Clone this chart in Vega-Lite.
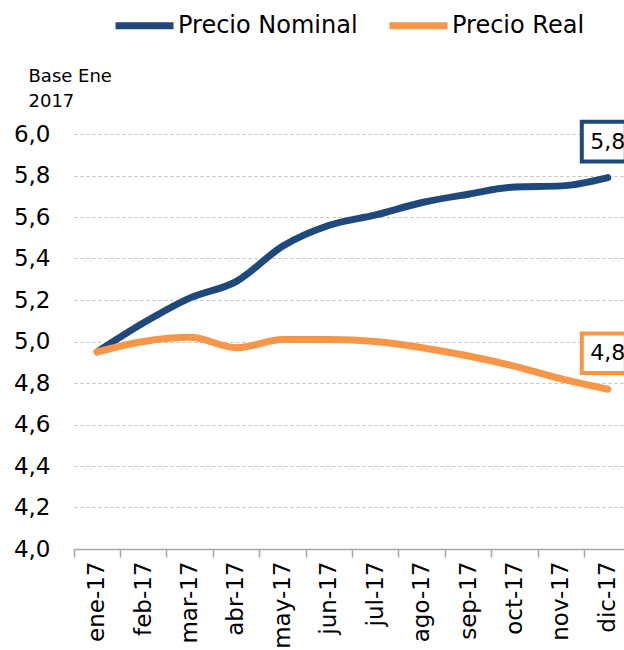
{
  "$schema": "https://vega.github.io/schema/vega-lite/v6.json",
  "autosize": "none",
  "width": 550,
  "height": 415,
  "padding": {"left": 74, "top": 134, "right": 0, "bottom": 101},
  "background": "white",
  "config": {
    "locale": {"number": {"decimal": ",", "thousands": ".", "grouping": [3], "currency": ["", ""]}},
    "view": {"stroke": null},
    "font": "DejaVu Sans"
  },
  "data": {
    "values": [
      {"mes": "ene-17", "serie": "Precio Nominal", "valor": 4.95},
      {"mes": "feb-17", "serie": "Precio Nominal", "valor": 5.09},
      {"mes": "mar-17", "serie": "Precio Nominal", "valor": 5.21},
      {"mes": "abr-17", "serie": "Precio Nominal", "valor": 5.29},
      {"mes": "may-17", "serie": "Precio Nominal", "valor": 5.46},
      {"mes": "jun-17", "serie": "Precio Nominal", "valor": 5.56},
      {"mes": "jul-17", "serie": "Precio Nominal", "valor": 5.61},
      {"mes": "ago-17", "serie": "Precio Nominal", "valor": 5.67},
      {"mes": "sep-17", "serie": "Precio Nominal", "valor": 5.71},
      {"mes": "oct-17", "serie": "Precio Nominal", "valor": 5.745},
      {"mes": "nov-17", "serie": "Precio Nominal", "valor": 5.75},
      {"mes": "dic-17", "serie": "Precio Nominal", "valor": 5.79},
      {"mes": "ene-17", "serie": "Precio Real", "valor": 4.95},
      {"mes": "feb-17", "serie": "Precio Real", "valor": 5.0},
      {"mes": "mar-17", "serie": "Precio Real", "valor": 5.02},
      {"mes": "abr-17", "serie": "Precio Real", "valor": 4.97},
      {"mes": "may-17", "serie": "Precio Real", "valor": 5.01},
      {"mes": "jun-17", "serie": "Precio Real", "valor": 5.01},
      {"mes": "jul-17", "serie": "Precio Real", "valor": 5.0},
      {"mes": "ago-17", "serie": "Precio Real", "valor": 4.97},
      {"mes": "sep-17", "serie": "Precio Real", "valor": 4.93},
      {"mes": "oct-17", "serie": "Precio Real", "valor": 4.88},
      {"mes": "nov-17", "serie": "Precio Real", "valor": 4.82},
      {"mes": "dic-17", "serie": "Precio Real", "valor": 4.77}
    ]
  },
  "encoding": {
    "x": {
      "field": "mes",
      "type": "ordinal",
      "sort": null,
      "scale": {"type": "band", "range": [0, 557], "paddingInner": 0, "paddingOuter": 0},
      "axis": {
        "title": null,
        "labelAngle": -90,
        "labelFont": "DejaVu Sans",
        "labelFontSize": 23,
        "labelColor": "black",
        "labelPadding": 4,
        "bandPosition": 0,
        "tickSize": 8,
        "tickColor": "#A6A6A6",
        "tickWidth": 1.5,
        "domainColor": "#A6A6A6",
        "domainWidth": 1.5,
        "grid": false
      }
    },
    "y": {
      "field": "valor",
      "type": "quantitative",
      "scale": {"domain": [4, 6], "nice": false, "zero": false},
      "axis": {
        "values": [4, 4.2, 4.4, 4.6, 4.8, 5, 5.2, 5.4, 5.6, 5.8, 6],
        "format": ".1f",
        "labelFont": "DejaVu Sans",
        "labelFontSize": 23,
        "labelColor": "black",
        "labelPadding": 24,
        "ticks": false,
        "domain": false,
        "grid": true,
        "gridColor": "#BFBFBF",
        "gridDash": [3, 3],
        "gridWidth": 1,
        "title": ["Base Ene", "2017"],
        "titleAngle": 0,
        "titleAlign": "left",
        "titleBaseline": "top",
        "titleX": -46,
        "titleY": -67,
        "titleFont": "DejaVu Sans",
        "titleFontSize": 18,
        "titleFontWeight": "normal",
        "titleColor": "black",
        "titleLineHeight": 25
      }
    }
  },
  "layer": [
    {
      "mark": {"type": "line", "interpolate": "monotone", "strokeWidth": 7, "strokeCap": "round"},
      "encoding": {
        "color": {
          "field": "serie",
          "type": "nominal",
          "scale": {"domain": ["Precio Nominal", "Precio Real"], "range": ["#1F497D", "#F79646"]},
          "legend": {
            "title": null,
            "orient": "none",
            "direction": "horizontal",
            "legendX": 38,
            "legendY": -141,
            "symbolType": "stroke",
            "symbolSize": 3364,
            "symbolStrokeWidth": 7,
            "labelFont": "DejaVu Sans",
            "labelFontSize": 24,
            "labelColor": "black",
            "labelOffset": 1,
            "labelLimit": 0,
            "columnPadding": 17
          }
        }
      }
    },
    {
      "transform": [{"filter": "datum.mes === 'dic-17'"}],
      "mark": {"type": "point", "shape": "M-1,-0.9L1,-0.9L1,0.9L-1,0.9Z", "size": 1936, "filled": false, "fill": "white", "fillOpacity": 1, "strokeWidth": 4, "opacity": 1, "xOffset": -4, "yOffset": -36},
      "encoding": {
        "stroke": {
          "field": "serie",
          "type": "nominal",
          "scale": {"domain": ["Precio Nominal", "Precio Real"], "range": ["#1F497D", "#F79646"]},
          "legend": null
        }
      }
    },
    {
      "transform": [{"filter": "datum.mes === 'dic-17'"}],
      "mark": {"type": "text", "font": "DejaVu Sans", "fontSize": 22, "color": "black", "align": "center", "baseline": "middle", "xOffset": 0, "yOffset": -36},
      "encoding": {
        "text": {"field": "valor", "type": "quantitative", "format": ".1f"}
      }
    }
  ]
}
